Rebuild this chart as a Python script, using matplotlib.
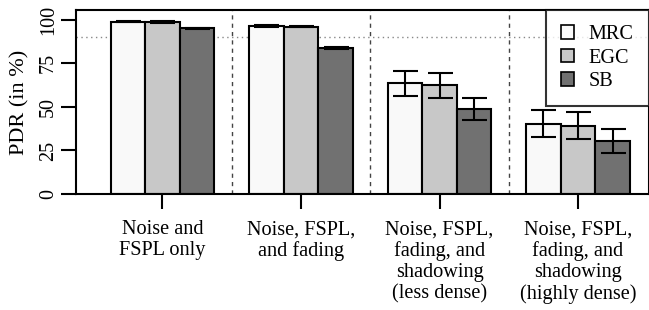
import numpy as np
import matplotlib.pyplot as plt
from matplotlib.patches import Patch

plt.rcParams['font.family'] = ['Liberation Serif', 'DejaVu Serif']

# Data
scenarios = ['Noise and\nFSPL only',
             'Noise, FSPL,\nand fading',
             'Noise, FSPL,\nfading, and\nshadowing\n(less dense)',
             'Noise, FSPL,\nfading, and\nshadowing\n(highly dense)']
methods = ['MRC', 'EGC', 'SB']
mrc = [98.9, 96.4, 63.5, 40.3]
egc = [98.7, 96.0, 62.5, 39.2]
sb = [95.0, 83.9, 48.8, 30.4]
mrc_err = [0.4, 0.4, 7.2, 7.7]
egc_err = [0.4, 0.4, 7.2, 7.6]
sb_err = [0.5, 0.5, 6.5, 6.8]
threshold = 90

values = [mrc, egc, sb]
errors = [mrc_err, egc_err, sb_err]
colors = ['#f9f9f9', '#c8c8c8', '#717171']

fig = plt.figure(figsize=(6.49, 3.10), dpi=100)
ax = fig.add_axes([0.117, 0.374, 0.883, 0.594])

n_groups = len(scenarios)
starts = 1 + 4 * np.arange(n_groups)

ax.axhline(threshold, color='#888888', linestyle=(0, (1, 2.5)), linewidth=1, zorder=1)
for k in range(1, n_groups):
    ax.axvline(starts[k] - 0.5, color='#444444', linestyle=(0, (3, 3)), linewidth=1, zorder=1)

for i, (vals, errs, col) in enumerate(zip(values, errors, colors)):
    x = starts + i + 0.5
    ax.bar(x, vals, width=1.0, color=col, edgecolor='black', linewidth=1.5, zorder=2)
    ax.errorbar(x, vals, yerr=errs, fmt='none', ecolor='black', elinewidth=1.5,
                capsize=9, capthick=1.5, zorder=3)

ax.set_xlim(0, 16.55)
ax.set_ylim(0, 105.6)
ax.set_xticks(starts + 1.5)
ax.set_xticklabels(scenarios, fontsize=14.6, linespacing=1.14)
ax.set_yticks([0, 25, 50, 75, 100])
ax.set_yticklabels(['0', '25', '50', '75', '100'], fontsize=14.5, rotation=90, va='center')
ax.tick_params(axis='both', length=11, width=1.5, direction='out')
ax.tick_params(axis='x', pad=8)
ax.tick_params(axis='y', pad=2)
ax.set_ylabel('PDR (in %)', fontsize=16, labelpad=7)
for s in ax.spines.values():
    s.set_linewidth(1.5)

handles = [Patch(facecolor=c, edgecolor='black', linewidth=1.2) for c in colors]
leg = ax.legend(handles, methods, loc='upper right', fontsize=14.6, frameon=True,
                fancybox=False, borderaxespad=0, handlelength=0.64, handleheight=0.64,
                handletextpad=0.74, labelspacing=0.22, borderpad=0.75)
leg.get_frame().set_edgecolor('black')
leg.get_frame().set_linewidth(1.5)

fig.savefig('out.png', dpi=100)
